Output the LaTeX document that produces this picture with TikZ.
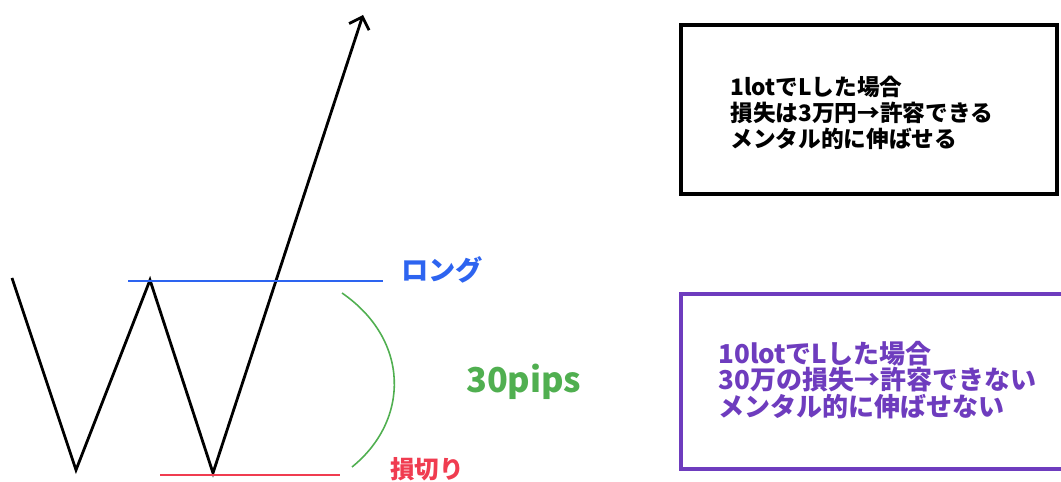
\documentclass[tikz,border=0pt]{standalone}
\usepackage{fontspec}
\setmainfont{Noto Sans CJK JP}
\usetikzlibrary{arrows.meta}
\definecolor{longblue}{RGB}{45,100,240}
\definecolor{stopred}{RGB}{240,60,80}
\definecolor{pipsgreen}{RGB}{80,175,80}
\definecolor{lotpurple}{RGB}{110,60,190}
\tikzset{
  chart/.style={line width=1.6pt, line join=miter},
  lvl/.style={line width=0.9pt},
  memo/.style={align=left, anchor=west, inner sep=0pt},
  memobox/.style={line width=1.8pt},
}
\begin{document}
\begin{tikzpicture}[x=0.02cm, y=-0.02cm]
    \useasboundingbox (0,0) rectangle (1061,482);

    % W-shaped price path
    \coordinate (s) at (12,278);
    \coordinate (b1) at (76,470);
    \coordinate (pk) at (150,280);
    \coordinate (b2) at (213,473);
    \coordinate (tip) at (363,15);
    \draw[chart, -{Straight Barb[length=6pt, width=12pt, line width=1.6pt]}] (s) -- (b1) -- (pk) -- (b2) -- (tip);

    % entry and stop levels
    \coordinate (l1) at (128,281);
    \coordinate (l2) at (383,281);
    \draw[lvl, longblue] (l1) -- (l2);
    \node[text=longblue, font=\bfseries\fontsize{15.5}{16}\selectfont, anchor=west] (long) at (395,270) {ロング};

    \coordinate (r1) at (160,475);
    \coordinate (r2) at (340,475);
    \draw[lvl, stopred] (r1) -- (r2);
    \node[text=stopred, font=\bfseries\fontsize{14}{16}\selectfont, anchor=west] (stop) at (384,469) {損切り};

    % distance between the two
    \coordinate (g1) at (342,293);
    \coordinate (g2) at (352,467);
    \draw[lvl, pipsgreen] (g1) .. controls (410,340) and (410,420) .. (g2);
    \node[text=pipsgreen, font=\bfseries\fontsize{19.5}{21}\selectfont, anchor=west] (pips) at (460,382) {30pips};

    % right boxes
    \draw[memobox] (681,25) rectangle (1057,194);
    \node[memo, font=\bfseries\fontsize{12.9}{14.7}\selectfont] (one) at (730,113) {1lotでLした場合\\損失は3万円→許容できる\\メンタル的に伸ばせる};

    \draw[memobox, lotpurple] (681,294) rectangle (1066,469);
    \node[memo, text=lotpurple, font=\bfseries\fontsize{14.8}{15}\selectfont] (ten) at (718,380) {10lotでLした場合\\30万の損失→許容できない\\メンタル的に伸ばせない};
\end{tikzpicture}
\end{document}
